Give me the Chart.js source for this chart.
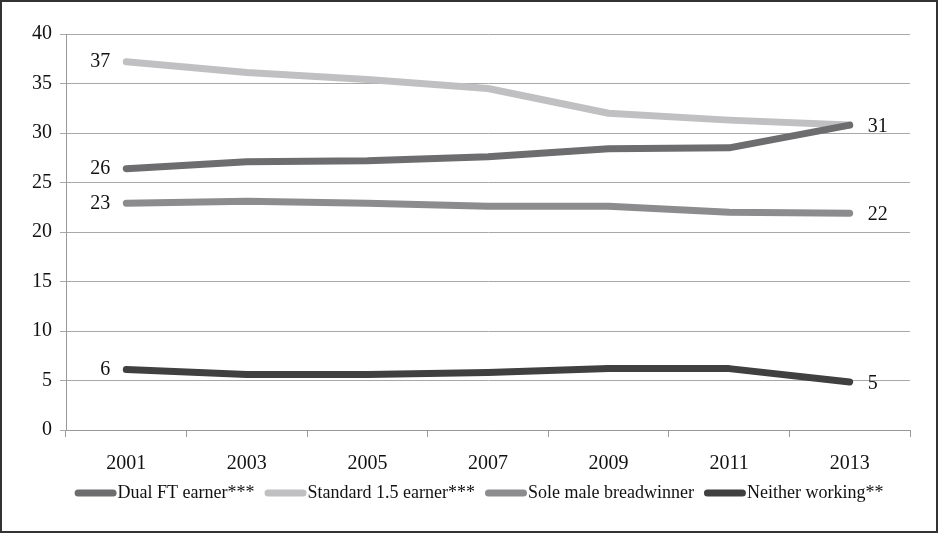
<!DOCTYPE html>
<html>
<head>
<meta charset="utf-8">
<script src="https://cdn.jsdelivr.net/npm/chart.js@4/dist/chart.umd.min.js"></script>
<style>
  html, body { margin: 0; padding: 0; background: #fff; }
  #wrap { width: 938px; height: 533px; box-sizing: border-box; border: 2px solid #333; }
</style>
</head>
<body>
<div id="wrap"><canvas id="chart" width="934" height="529"></canvas></div>
<script>
// years on the x axis
const years = ['2001', '2003', '2005', '2007', '2009', '2011', '2013'];

// percentages per household type
const dualFT = [26.4, 27.1, 27.2, 27.6, 28.4, 28.5, 30.8];
const standard15 = [37.2, 36.1, 35.4, 34.5, 32.0, 31.3, 30.8];
const soleMale = [22.9, 23.1, 22.9, 22.6, 22.6, 22.0, 21.9];
const neither = [6.1, 5.6, 5.6, 5.8, 6.2, 6.2, 4.85];

const seriesNames = ['Dual FT earner***', 'Standard 1.5 earner***', 'Sole male breadwinner', 'Neither working**'];
const seriesColors = ['#6d6d6f', '#c0c0c2', '#8c8c8e', '#404040'];
const showEndLabel = [false, true, true, true];

const serif = "'Liberation Serif', 'Times New Roman', serif";
Chart.defaults.font.family = serif;

// labels at the first and last point of each line
const endLabels = {
    id: 'endLabels',
    afterDatasetsDraw(chart) {
        const ctx = chart.ctx;
        ctx.save();
        ctx.font = '20px ' + serif;
        ctx.fillStyle = '#111';
        ctx.textBaseline = 'middle';
        chart.data.datasets.forEach((ds, i) => {
            const pts = chart.getDatasetMeta(i).data;
            const first = pts[0];
            const last = pts[pts.length - 1];
            ctx.textAlign = 'right';
            ctx.fillText(Math.round(ds.data[0]), first.x - 16, first.y);
            if (showEndLabel[i]) {
                ctx.textAlign = 'left';
                ctx.fillText(Math.round(ds.data[ds.data.length - 1]), last.x + 18, last.y + 2);
            }
        });
        ctx.restore();
    }
};

// legend row under the axis: short thick line, then its name right next to it
const lineLegend = {
    id: 'lineLegend',
    afterDraw(chart) {
        const ctx = chart.ctx;
        const sw = 35, gapText = 8, gapItem = 10;
        ctx.save();
        ctx.font = '18px ' + serif;
        ctx.textBaseline = 'middle';
        const items = chart.data.datasets.map(ds => ({
            ds, w: sw + gapText + ctx.measureText(ds.label).width
        }));
        const total = items.reduce((s, it) => s + it.w, 0) + gapItem * (items.length - 1);
        let x = chart.width / 2 + 10 - total / 2;
        const y = 491;
        items.forEach(it => {
            ctx.strokeStyle = it.ds.borderColor;
            ctx.lineWidth = 7;
            ctx.lineCap = 'round';
            ctx.beginPath();
            ctx.moveTo(x + 3.5, y);
            ctx.lineTo(x + sw + 3.5, y);
            ctx.stroke();
            ctx.fillStyle = '#111';
            ctx.textAlign = 'left';
            ctx.fillText(it.ds.label, x + sw + gapText, y);
            x += it.w + gapItem;
        });
        ctx.restore();
    }
};

const data = [dualFT, standard15, soleMale, neither];

new Chart(document.getElementById('chart'), {
    type: 'line',
    data: {
        labels: years,
        datasets: data.map((d, i) => ({
            label: seriesNames[i],
            data: d,
            borderColor: seriesColors[i],
            backgroundColor: seriesColors[i],
            borderWidth: 7,
            borderCapStyle: 'round',
            borderJoinStyle: 'round',
            pointRadius: 0,
            tension: 0
        }))
    },
    options: {
        responsive: false,
        animation: false,
        layout: { padding: { top: 32, right: 26, left: 22, bottom: 40 } },
        plugins: {
            tooltip: { enabled: false },
            legend: { display: false }
        },
        scales: {
            x: {
                offset: true,
                grid: {
                    offset: true,
                    drawOnChartArea: false,
                    color: '#999',
                    tickLength: 7
                },
                border: { color: '#999' },
                ticks: {
                    color: '#111',
                    padding: 15,
                    font: { family: serif, size: 20 }
                }
            },
            y: {
                min: 0,
                max: 40,
                ticks: {
                    stepSize: 5,
                    color: '#111',
                    padding: 8,
                    font: { family: serif, size: 20 }
                },
                grid: { color: '#a8a8a8', tickLength: 6 },
                border: { color: '#999' }
            }
        }
    },
    plugins: [endLabels, lineLegend]
});
</script>
</body>
</html>
